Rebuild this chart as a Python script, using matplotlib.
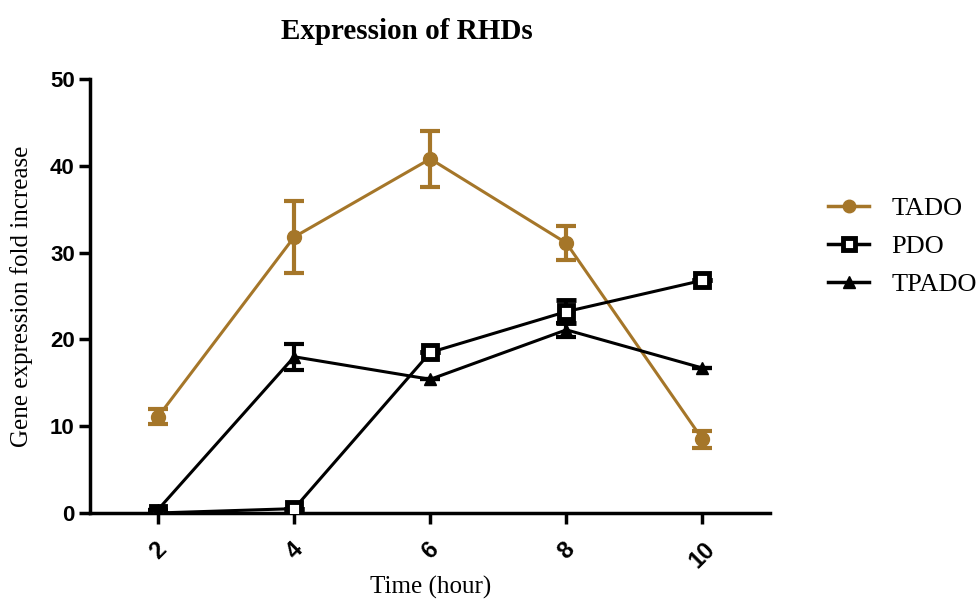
import matplotlib.pyplot as plt
from matplotlib.lines import Line2D

# time points (hours)
hours = [2, 4, 6, 8, 10]

# mean fold increase and error bars
tado = [11.1, 31.8, 40.8, 31.1, 8.5]
tado_err = [0.9, 4.2, 3.2, 2.0, 1.0]

pdo = [0.0, 0.5, 18.5, 23.2, 26.8]
pdo_err = [0.0, 0.0, 0.0, 1.3, 0.0]

tpado = [0.4, 18.0, 15.4, 21.1, 16.7]
tpado_err = [0.0, 1.5, 0.0, 0.8, 0.0]

brown = '#A57629'

fig = plt.figure(figsize=(9.79, 5.99), dpi=100)
ax = fig.add_axes([0.092, 0.1436, 0.695, 0.7245])

ax.errorbar(hours, tado, yerr=tado_err, color=brown, marker='o', markersize=10,
            linewidth=2.2, elinewidth=3, capsize=7, capthick=3, zorder=3)
ax.errorbar(hours, pdo, yerr=pdo_err, color='black', marker='s', markersize=10,
            markerfacecolor='white', markeredgewidth=3.5, linewidth=2.2,
            elinewidth=3, capsize=7, capthick=3, zorder=4)
ax.errorbar(hours, tpado, yerr=tpado_err, color='black', marker='^', markersize=9,
            linewidth=2.2, elinewidth=3, capsize=7, capthick=3, zorder=5)

ax.set_xlim(1, 11)
ax.set_ylim(0, 50)
ax.set_xticks(hours)
ax.set_yticks([0, 10, 20, 30, 40, 50])

for s in ['top', 'right']:
    ax.spines[s].set_visible(False)
for s in ['left', 'bottom']:
    ax.spines[s].set_linewidth(2.5)

ax.tick_params(width=2.5, length=8, direction='out')
ax.tick_params(axis='y', pad=3)
ax.tick_params(axis='x', pad=10)
for lab in ax.get_yticklabels():
    lab.set_fontfamily('Liberation Sans')
    lab.set_fontweight('bold')
    lab.set_fontsize(16)
for lab in ax.get_xticklabels():
    lab.set_fontfamily('Liberation Sans')
    lab.set_fontweight('bold')
    lab.set_fontsize(17)
    lab.set_rotation(45)
    lab.set_ha('center')
    lab.set_va('top')

ax.set_xlabel('Time (hour)', family='Liberation Serif', fontsize=18, labelpad=2)
ax.set_ylabel('Gene expression fold increase', family='Liberation Serif', fontsize=18, labelpad=12)
fig.text(0.416, 0.948, 'Expression of RHDs', family='Liberation Serif',
         fontweight='bold', fontsize=21, ha='center', va='center')

handles = [
    Line2D([], [], color=brown, marker='o', markersize=9, linewidth=2.5),
    Line2D([], [], color='black', marker='s', markersize=9, markerfacecolor='white',
           markeredgewidth=3.5, linewidth=2.5),
    Line2D([], [], color='black', marker='^', markersize=8, linewidth=2.5),
]
ax.legend(handles, ['TADO', 'PDO', 'TPADO'], loc='center left',
          bbox_to_anchor=(1.05, 0.615), frameon=False,
          prop={'family': 'Liberation Serif', 'size': 19},
          handlelength=1.55, labelspacing=0.55, handletextpad=0.85)

fig.savefig('out.png', dpi=100)
